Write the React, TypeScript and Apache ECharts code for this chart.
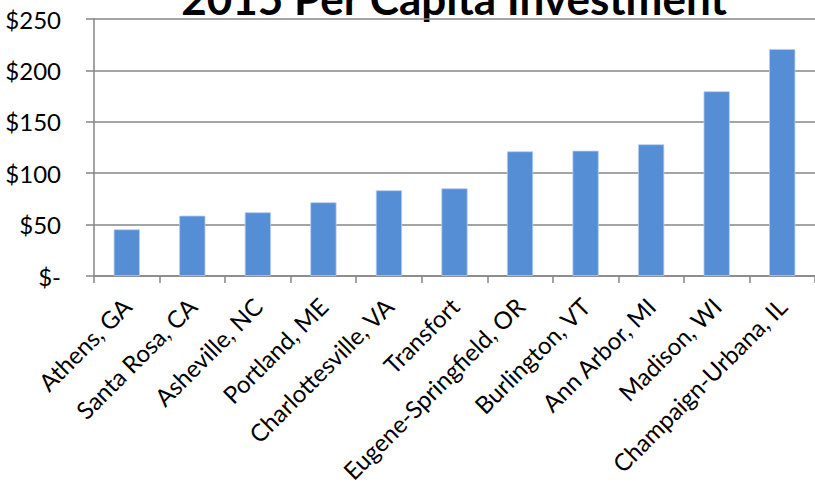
import React, { useEffect, useRef } from "react";
import * as echarts from "echarts";

const categories = [
  "Athens, GA",
  "Santa Rosa, CA",
  "Asheville, NC",
  "Portland, ME",
  "Charlottesville, VA",
  "Transfort",
  "Eugene-Springfield, OR",
  "Burlington, VT",
  "Ann Arbor, MI",
  "Madison, WI",
  "Champaign-Urbana, IL",
];
const investment = [45.4, 58.7, 62, 71.7, 83.4, 85.3, 121.3, 121.9, 128.1, 179.7, 220.8];
const yTicks = [0, 50, 100, 150, 200, 250];
const titleText = "2015 Per Capita Investment";

const FONT = "Lato, 'Open Sans', sans-serif";

export default function App() {
  const ref = useRef<HTMLDivElement>(null);
  useEffect(() => {
    const chart = echarts.init(ref.current!, null, { renderer: "svg" });
    chart.setOption({
      animation: false,
      backgroundColor: "#ffffff",
      graphic: [
        {
          type: "text",
          x: 454,
          y: 20,
          style: {
            text: titleText,
            textAlign: "center",
            textVerticalAlign: "bottom",
            fontFamily: FONT,
            fontWeight: "bold",
            fontSize: 44,
            fill: "#000",
          },
        },
      ],
      grid: { left: 94, right: -7, top: 19, bottom: 213, containLabel: false },
      xAxis: {
        type: "category",
        data: categories,
        axisLine: { lineStyle: { color: "#868686", width: 1.5 } },
        axisTick: { show: true, length: 7, alignWithLabel: false, lineStyle: { color: "#868686", width: 1.5 } },
        axisLabel: {
          rotate: 45,
          interval: 0,
          margin: 26,
          fontFamily: FONT,
          fontSize: 24,
          color: "#000",
        },
      },
      yAxis: {
        type: "value",
        min: 0,
        max: 250,
        interval: 50,
        axisLine: { show: true, lineStyle: { color: "#868686", width: 1.5 } },
        axisTick: { show: true, length: 8, lineStyle: { color: "#868686", width: 1.5 } },
        splitLine: { show: true, lineStyle: { color: "#868686", width: 1.5 } },
        axisLabel: {
          margin: 33,
          fontFamily: FONT,
          fontSize: 24,
          color: "#000",
          formatter: (v: number) => (yTicks.includes(v) ? (v === 0 ? "$-" : "$" + v) : ""),
        },
      },
      series: [
        {
          type: "bar",
          data: investment,
          barCategoryGap: "60%",
          itemStyle: { color: "#558ed5", borderColor: "#b9cdef", borderWidth: 0.8 },
        },
      ],
    });
    return () => chart.dispose();
  }, []);
  return <div ref={ref} style={{ width: 815, height: 489, position: "absolute", left: 0, top: 0 }} />;
}
